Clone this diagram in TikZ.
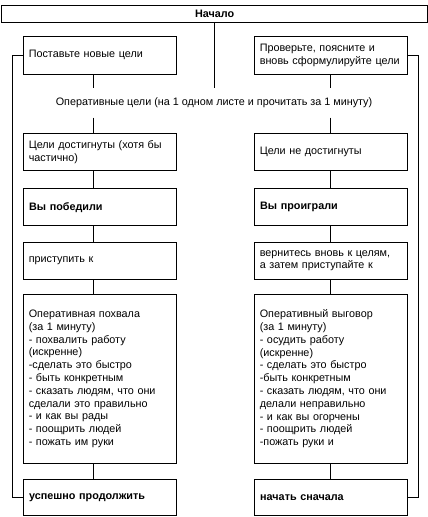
\documentclass[tikz,border=0pt]{standalone}
\usepackage{fontspec}
\setmainfont{Liberation Sans}
\begin{document}
\begin{tikzpicture}[x=1pt,y=-1pt,
  box/.style={draw, line width=0.6pt, rectangle, anchor=north west, inner xsep=5.5pt, inner ysep=0pt,
    text width=142pt, align=left, font=\fontsize{10.8}{12.8}\selectfont},
  thickbox/.style={box, line width=1.4pt, font=\fontsize{10.8}{12.8}\selectfont\bfseries},
  link/.style={line width=0.6pt}]
\useasboundingbox (0,0) rectangle (428,517);
\node[draw, line width=1.4pt, anchor=north west, minimum width=426pt, minimum height=17pt, inner sep=0pt,
  font=\fontsize{10.8}{12}\selectfont\bfseries] (start) at (1,5) {Начало};
\node[box, minimum height=38pt] (b1) at (23,36) {Поставьте новые цели};
\node[box, minimum height=38pt] (b2) at (254,36) {Проверьте, поясните и\\вновь сформулируйте цели};
\node[minimum height=29pt, inner sep=0pt, font=\fontsize{10.8}{12}\selectfont] (op) at (214,103)
  {Оперативные цели (на 1 одном листе и прочитать за 1 минуту)};
\node[box, minimum height=37pt] (c1) at (23,133) {Цели достигнуты (хотя бы\\частично)};
\node[box, minimum height=37pt] (c2) at (254,133) {Цели не достигнуты};
\node[thickbox, minimum height=37pt] (d1) at (23,188) {Вы победили};
\node[thickbox, minimum height=37pt] (d2) at (254,188) {Вы проиграли};
\node[box, minimum height=37pt] (e1) at (23,242) {приступить к};
\node[box, minimum height=37pt] (e2) at (254,242) {вернитесь вновь к целям,\\а затем приступайте к};
\node[box, minimum height=169pt] (f1) at (23,294) {Оперативная похвала\\(за 1 минуту)\\- похвалить работу\\(искренне)\\-сделать это быстро\\- быть конкретным\\- сказать людям, что они\\сделали это правильно\\- и как вы рады\\- поощрить людей\\- пожать им руки};
\node[box, minimum height=169pt] (f2) at (254,294) {Оперативный выговор\\(за 1 минуту)\\- осудить работу\\(искренне)\\- сделать это быстро\\-быть конкретным\\- сказать людям, что они\\делали неправильно\\- и как вы огорчены\\- поощрить людей\\-пожать руки и};
\node[thickbox, minimum height=36pt] (g1) at (23,479) {успешно продолжить};
\node[thickbox, minimum height=36pt] (g2) at (254,479) {начать сначала};
\coordinate (lx) at (93,0);
\coordinate (rx) at (330,0);
\draw[link] (start.south -| op.north) -- (op.north);
\draw[link] (b1.south -| lx) -- (op.north -| lx);
\draw[link] (b2.south -| rx) -- (op.north -| rx);
\draw[link] (op.south -| lx) -- (c1.north -| lx);
\draw[link] (op.south -| rx) -- (c2.north -| rx);
\draw[link] (c1.south -| lx) -- (d1.north -| lx);
\draw[link] (c2.south -| rx) -- (d2.north -| rx);
\draw[link] (d1.south -| lx) -- (e1.north -| lx);
\draw[link] (d2.south -| rx) -- (e2.north -| rx);
\draw[link] (e1.south -| lx) -- (f1.north -| lx);
\draw[link] (e2.south -| rx) -- (f2.north -| rx);
\draw[link] (f1.south -| lx) -- (g1.north -| lx);
\draw[link] (f2.south -| rx) -- (g2.north -| rx);
\draw[link] (b1.west) -- ([xshift=-11pt]b1.west) |- (g1.west);
\draw[link] (b2.east) -- ([xshift=11pt]b2.east) |- (g2.east);
\end{tikzpicture}
\end{document}
